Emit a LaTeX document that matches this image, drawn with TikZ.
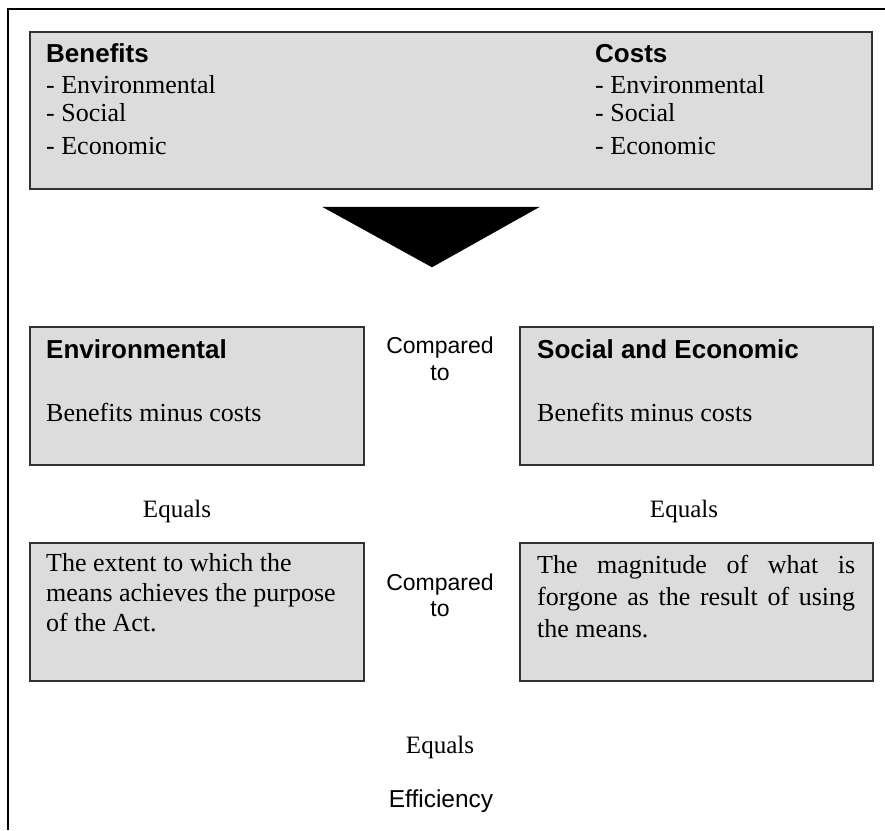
\documentclass[tikz,border=0pt]{standalone}
\usepackage{fontspec}
\setmainfont{Liberation Serif}
\setsansfont{Liberation Sans}
\definecolor{boxfill}{RGB}{220,220,220}
\definecolor{boxline}{RGB}{50,50,50}
\begin{document}
\begin{tikzpicture}[x=1pt, y=-1pt,
  box/.style={draw=boxline, fill=boxfill, line width=1.5pt},
  txt/.style={anchor=base west, inner sep=0pt, align=left, font=\fontsize{26}{30}\selectfont},
  head/.style={anchor=base west, inner sep=0pt, font=\sffamily\bfseries\fontsize{26}{30}\selectfont},
  word/.style={anchor=base, inner sep=0pt, font=\fontsize{25}{30}\selectfont},
  note/.style={anchor=base, inner sep=0pt, align=center, font=\sffamily\fontsize{23}{27}\selectfont}]
\useasboundingbox (0,0) rectangle (885,830);
\draw[line width=2.5pt] (8,830) -- (8,9) -- (885,9);
\draw[box] (30,32) rectangle (872,189);
\node[head] (benefits) at (46,62.7) {Benefits};
\node[txt] (benlist) at (46,154.3) {- Environmental\\[-1.6pt]- Social\\[2.6pt]- Economic};
\node[head] (costs) at (595,62.7) {Costs};
\node[txt] (costlist) at (595,154.3) {- Environmental\\[-1.6pt]- Social\\[2.6pt]- Economic};
\draw[fill=black] (323,207) -- (539,207) -- (432,267) -- cycle;
\draw[box] (30,327) rectangle (364,465);
\draw[box] (520,327) rectangle (873,465);
\node[head] (env) at (46,358) {Environmental};
\node[txt] (envbm) at (46,421.7) {Benefits minus costs};
\node[head] (soc) at (537,358) {Social and Economic};
\node[txt] (socbm) at (537,421.7) {Benefits minus costs};
\node[note] (cmp1) at (440,380) {Compared\\to};
\node[word] (eq1) at (177,517) {Equals};
\node[word] (eq2) at (684,517) {Equals};
\draw[box] (30,543) rectangle (364,681);
\draw[box] (520,543) rectangle (873,681);
\node[txt] (extent) at (46,631.7) {The extent to which the\\means achieves the purpose\\of the Act.};
\node[txt, text width=318pt, align=justify, font=\fontsize{26}{32}\selectfont] (magn) at (537,573)
  {The magnitude of what is\linebreak forgone as the result of using\linebreak the means.};
\node[note, font=\sffamily\fontsize{23}{25.5}\selectfont] (cmp2) at (440,616) {Compared\\to};
\node[word] (eq3) at (440,753) {Equals};
\node[note, font=\sffamily\fontsize{24.5}{27}\selectfont] (eff) at (441,807) {Efficiency};
\end{tikzpicture}
\end{document}
